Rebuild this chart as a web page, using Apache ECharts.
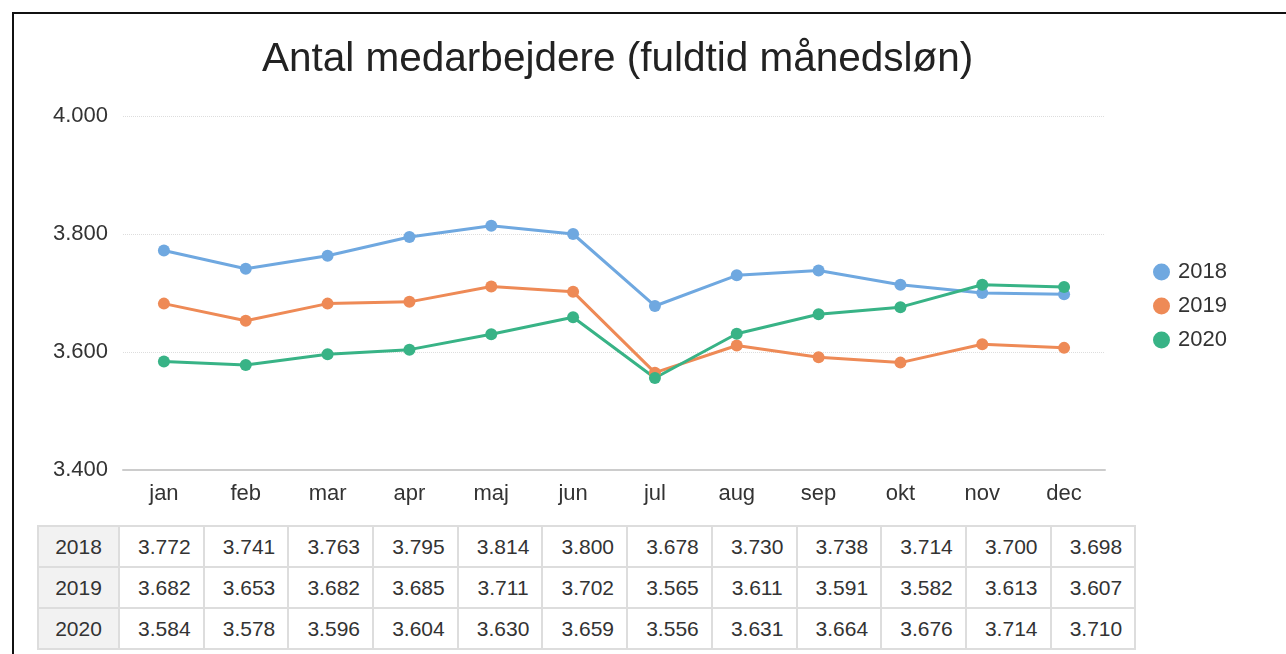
<!DOCTYPE html>
<html>
<head>
<meta charset="utf-8">
<script src="https://cdn.jsdelivr.net/npm/echarts@6/dist/echarts.min.js"></script>
<style>
  body { margin: 0; background: #fff; font-family: "Liberation Sans", Arial, sans-serif; }
  #frame { position: absolute; left: 12px; top: 12px; width: 1400px; height: 700px;
    border-left: 2px solid #111; border-top: 2px solid #111; }
  #chart { position: absolute; left: 0; top: 0; width: 1286px; height: 520px; }
  #tbl { position: absolute; left: 37px; top: 525px; border-collapse: collapse; font-size: 21px; color: #333; }
  #tbl td { border: 2px solid #ddd; height: 39px; width: 76.7px; text-align: center; padding: 0 0 0 6px; }
  #tbl td.head { background: #f2f2f2; width: 79px; padding: 0; }
</style>
</head>
<body>
<div id="frame"></div>
<div id="chart"></div>
<table id="tbl"></table>
<script>
const months = ['jan', 'feb', 'mar', 'apr', 'maj', 'jun', 'jul', 'aug', 'sep', 'okt', 'nov', 'dec']
const years = ['2018', '2019', '2020']
const data2018 = [3772, 3741, 3763, 3795, 3814, 3800, 3678, 3730, 3738, 3714, 3700, 3698]
const data2019 = [3682, 3653, 3682, 3685, 3711, 3702, 3565, 3611, 3591, 3582, 3613, 3607]
const data2020 = [3584, 3578, 3596, 3604, 3630, 3659, 3556, 3631, 3664, 3676, 3714, 3710]
const colors = ['#6fa8e0', '#ee8a56', '#38b386']

const seriesData = [data2018, data2019, data2020]

// danish number format: 3.772
function fmt(v) {
  return (v / 1000).toFixed(3)
}

const chart = echarts.init(document.getElementById('chart'))
chart.setOption({
  animation: false,
  color: colors,
  title: {
    text: 'Antal medarbejdere (fuldtid månedsløn)',
    left: 257,
    top: 34,
    textStyle: { fontFamily: 'Liberation Sans', fontSize: 40.5, fontWeight: 'normal', color: '#222' }
  },
  legend: {
    orient: 'vertical',
    left: 1148,
    top: 256,
    itemGap: 12,
    itemWidth: 17,
    itemHeight: 17,
    icon: 'circle',
    textStyle: { fontFamily: 'Liberation Sans', fontSize: 22, color: '#333', padding: [0, 0, 0, 3] },
    data: years
  },
  grid: { left: 123, right: 181, top: 116, bottom: 50 },
  xAxis: {
    type: 'category',
    data: months,
    axisLine: { lineStyle: { color: '#ccc', width: 2 } },
    axisTick: { alignWithLabel: true, length: 6, lineStyle: { color: '#ccc' } },
    axisLabel: { fontFamily: 'Liberation Sans', fontSize: 22, color: '#333', margin: 13 }
  },
  yAxis: {
    type: 'value',
    min: 3400,
    max: 4000,
    interval: 200,
    axisLine: { show: false },
    axisTick: { show: false },
    splitLine: { lineStyle: { color: '#ddd', type: 'dotted', width: 1 } },
    axisLabel: { fontFamily: 'Liberation Sans', fontSize: 22, color: '#333', margin: 15, formatter: fmt }
  },
  series: years.map((y, i) => ({
    name: y,
    type: 'line',
    data: seriesData[i],
    symbol: 'circle',
    symbolSize: 12,
    lineStyle: { width: 3 }
  }))
})

// table under the chart
const tbl = document.getElementById('tbl')
years.forEach((y, i) => {
  const tr = document.createElement('tr')
  const th = document.createElement('td')
  th.className = 'head'
  th.textContent = y
  tr.appendChild(th)
  seriesData[i].forEach(v => {
    const td = document.createElement('td')
    td.textContent = fmt(v)
    tr.appendChild(td)
  })
  tbl.appendChild(tr)
})
</script>
</body>
</html>
